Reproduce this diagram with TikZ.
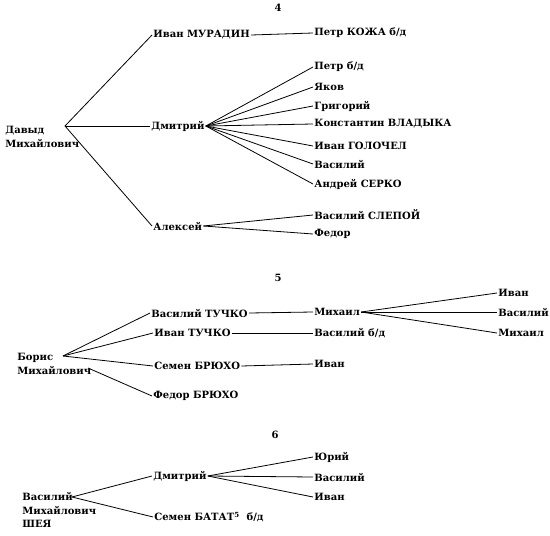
\documentclass[tikz,border=0pt]{standalone}
\usepackage{fontspec}
\setmainfont{DejaVu Serif}
\begin{document}
\begin{tikzpicture}[
      x=1pt, y=-1pt,
      every node/.style={inner sep=1pt, font=\bfseries\fontsize{10}{13.5}\selectfont},
      person/.style={anchor=west},
      root/.style={anchor=north west, align=left},
      line width=0.8pt
    ]
    \useasboundingbox (0,0) rectangle (550,536);

    \node (n4) at (278,8) {4};
    \node[root] (david) at (4,125) {Давыд\\Михайлович};
    \coordinate (davidfan) at (65,126);
    \node[person] (muradin) at (152,35) {Иван МУРАДИН};
    \node[person] (kozha) at (313,33) {Петр КОЖА б/д};
    \node[person] (dmitry) at (150,126) {Дмитрий};
    \node[person] (aleksey) at (152,226) {Алексей};
    \draw (davidfan) -- (muradin.west);
    \draw (davidfan) -- (dmitry.west);
    \draw (davidfan) -- (aleksey.west);
    \draw (muradin.east) -- (kozha.west);
    \foreach \y/\n/\t in {67/petr/{Петр б/д}, 87/yakov/Яков, 106/grigory/Григорий,
        124/konst/{Константин ВЛАДЫКА}, 146/golochel/{Иван ГОЛОЧЕЛ},
        164/vasily/Василий, 184/serko/{Андрей СЕРКО}} {
        \node[person] (\n) at (313,\y) {\t};
        \draw (dmitry.east) -- (\n.west);
      }
    \foreach \y/\n/\t in {215/slepoy/{Василий СЛЕПОЙ}, 234/fedor/Федор} {
        \node[person] (\n) at (313,\y) {\t};
        \draw (aleksey.east) -- (\n.west);
      }

    \node (n5) at (278,278) {5};
    \node[root] (boris) at (16,352) {Борис\\Михайлович};
    \coordinate (borisfan) at (63,356);
    \coordinate (borisend) at (88,368);
    \node[person] (tuchkov) at (150,313) {Василий ТУЧКО};
    \node[person] (tuchkoi) at (153,333) {Иван ТУЧКО};
    \node[person] (bryukhos) at (153,366) {Семен БРЮХО};
    \node[person] (bryukhof) at (152,396) {Федор БРЮХО};
    \draw (borisfan) -- (tuchkov.west);
    \draw (borisfan) -- (tuchkoi.west);
    \draw (borisfan) -- (bryukhos.west);
    \draw (borisend) -- (bryukhof.west);
    \node[person] (mikhail) at (313,312) {Михаил};
    \node[person] (vasilybd) at (313,333) {Василий б/д};
    \node[person] (ivanb) at (313,364) {Иван};
    \draw (tuchkov.east) -- (mikhail.west);
    \draw (tuchkoi.east) -- (vasilybd.west);
    \draw (bryukhos.east) -- (ivanb.west);
    \foreach \y/\n/\t in {293/ivanm/Иван, 312/vasilym/Василий, 333/mikhailm/Михаил} {
        \node[person] (\n) at (497,\y) {\t};
        \draw (mikhail.east) -- (\n.west);
      }

    \node (n6) at (275,435) {6};
    \node[root] (sheya) at (21,491) {Василий\\Михайлович\\ШЕЯ};
    \coordinate (sheyafan) at (72,497);
    \node[person] (dmitrys) at (152,476) {Дмитрий};
    \node[person] (batat) at (153,517) {Семен БАТАТ\textsuperscript{5}\ \ б/д};
    \draw (sheyafan) -- (dmitrys.west);
    \draw (sheyafan) -- (batat.west);
    \foreach \y/\n/\t in {457/yury/Юрий, 477/vasilys/Василий, 497/ivans/Иван} {
        \node[person] (\n) at (313,\y) {\t};
        \draw (dmitrys.east) -- (\n.west);
      }

  \end{tikzpicture}
\end{document}
